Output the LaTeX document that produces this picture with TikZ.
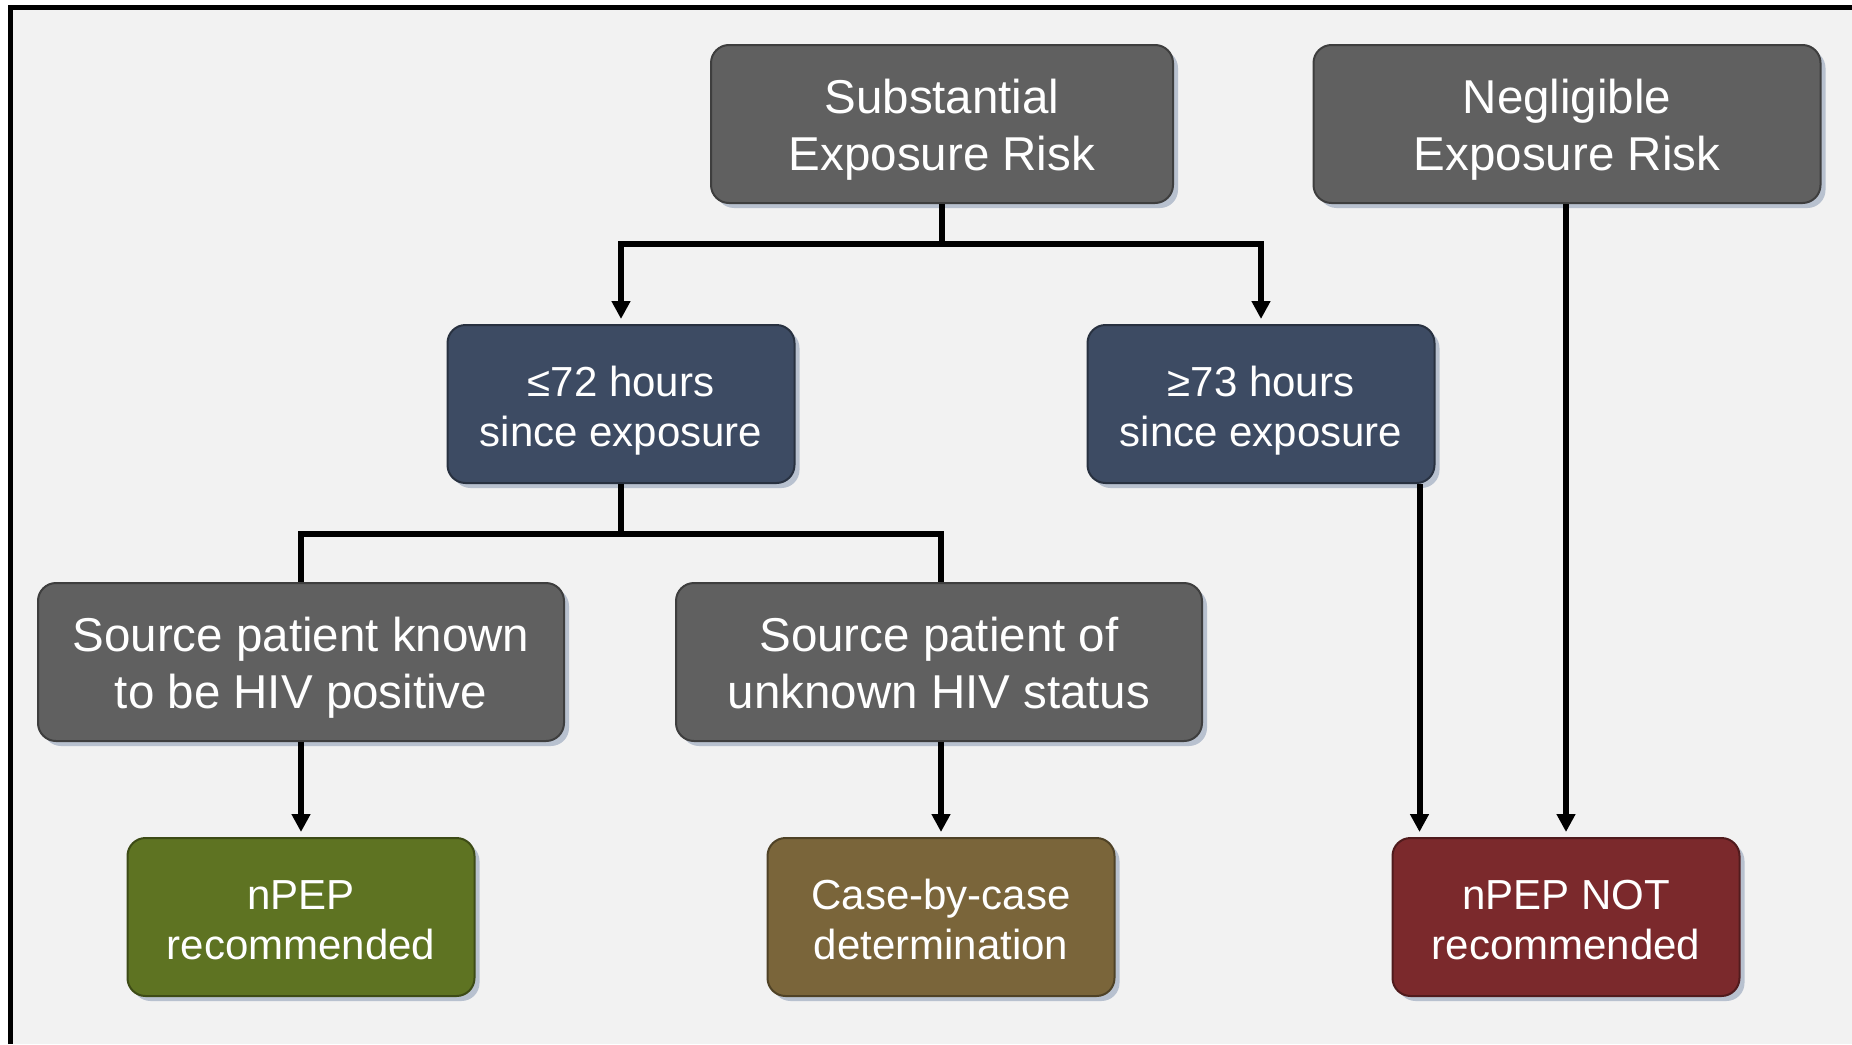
\documentclass[tikz,border=0pt]{standalone}
\usepackage{fontspec}
\setmainfont{Liberation Sans}
\usetikzlibrary{arrows.meta,shadows}
\definecolor{bggray}{HTML}{F2F2F2}
\definecolor{boxgray}{HTML}{606060}
\definecolor{boxnavy}{HTML}{3D4B63}
\definecolor{boxgreen}{HTML}{5E7322}
\definecolor{boxbrown}{HTML}{7A653A}
\definecolor{boxred}{HTML}{7B292C}
\definecolor{shadowblue}{HTML}{8A9AB4}

\begin{document}
\begin{tikzpicture}[x=0.5pt,y=-0.5pt,line width=3pt,
  >={Triangle[width=9pt,length=9pt]},
  box/.style={rounded corners=9pt,fill=#1,draw=#1!65!black,line width=1pt,
    text=white,align=center,inner sep=0pt,minimum height=79pt,
    drop shadow={shadow xshift=2.5pt,shadow yshift=-2.5pt,fill=shadowblue,opacity=.55}},
  big node/.style={box=boxgray,font=\fontsize{23.75}{28.5}\selectfont,
    execute at begin node={\rule{0pt}{52.9pt}},
    execute at end node={\rule[-6pt]{0pt}{6pt}}},
  small node/.style={box=#1,minimum width=173.5pt,font=\fontsize{21}{25}\selectfont,
    execute at begin node={\rule{0pt}{47.4pt}},
    execute at end node={\rule[-5pt]{0pt}{5pt}}},
  link/.style={draw=black,line width=3pt}]
\useasboundingbox (0,0) rectangle (1852,1044);

% frame
\fill[white] (0,0) rectangle (1852,1044);
\fill[bggray] (8,5) rectangle (1852,1044);
\draw[line width=2.6pt] (10.7,1044) -- (10.7,7.3) -- (1852,7.3);

% top row
  \node[big node,minimum width=231pt] (sub) at (942,124) {Substantial\\Exposure Risk};
  \node[big node,minimum width=253.5pt] (neg) at (1567,124) {Negligible\\Exposure Risk};

% time since exposure
  \node[small node=boxnavy] (short) at (621,404) {≤72 hours\\since exposure};
  \node[small node=boxnavy] (long) at (1261,404) {≥73 hours\\since exposure};

% source patient
  \node[big node,minimum width=263pt] (known) at (301,662) {Source patient known\\to be HIV positive};
  \node[big node,minimum width=263pt] (unknown) at (939,662) {Source patient of\\unknown HIV status};

% outcomes
  \node[small node=boxgreen] (rec) at (301,917) {nPEP\\recommended};
  \node[small node=boxbrown] (case) at (941,917) {Case-by-case\\determination};
  \node[small node=boxred] (notrec) at (1566,917) {nPEP NOT\\recommended};

% connectors
  \coordinate (j1) at (942,244);
  \coordinate (j2) at (621,534);
  \coordinate (j3) at ([xshift=-8pt]long.south east);

  \draw[link] (sub) -- (j1);
  \draw[link,->,shorten >=2.5pt] (j1) -| (short);
  \draw[link,->,shorten >=2.5pt] (j1) -| (long);

  \draw[link] (short) -- (j2);
  \draw[link] (j2) -| (known);
  \draw[link] (j2) -| (case.north |- unknown.north);

  \draw[link,->,shorten >=2.5pt] (known) -- (rec);
  \draw[link,->,shorten >=2.5pt] (case.north |- unknown.south) -- (case);
  \draw[link,->,shorten >=2.5pt] (j3) -- (j3 |- notrec.north);
  \draw[link,->,shorten >=2.5pt] (notrec.north |- neg.south) -- (notrec);

\end{tikzpicture}
\end{document}
